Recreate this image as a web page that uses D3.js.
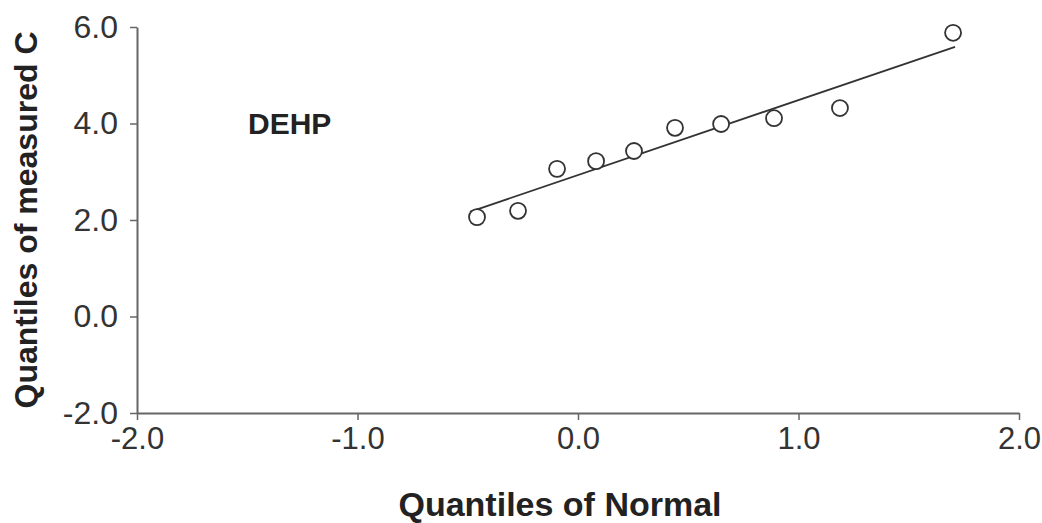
<!DOCTYPE html>
<html>
<head>
<meta charset="utf-8">
<script src="https://cdn.jsdelivr.net/npm/d3@7"></script>
<style>
  body { margin: 0; background: #fff; }
  text { font-family: "Liberation Sans", Arial, Helvetica, sans-serif; }
</style>
</head>
<body>
<svg id="chart" width="1042" height="523"></svg>
<script>
// normal quantiles vs measured quantiles (DEHP)
const normalQ = [-0.458, -0.272, -0.095, 0.082, 0.254, 0.440, 0.649, 0.889, 1.188, 1.701];
const measuredQ = [2.06, 2.19, 3.06, 3.22, 3.43, 3.91, 3.99, 4.11, 4.32, 5.88];
// reference line end points
const lineX = [-0.49, 1.71];
const lineY = [2.17, 5.59];
const xTicks = [-2, -1, 0, 1, 2];
const yTicks = [-2, 0, 2, 4, 6];

const svg = d3.select("#chart");
const margin = { top: 27, right: 23, bottom: 110, left: 137 };
const width = 1042, height = 523;

const x = d3.scaleLinear().domain([-2, 2]).range([margin.left, width - margin.right]);
const y = d3.scaleLinear().domain([-2, 6]).range([height - margin.bottom, margin.top]);

const axisColor = "#666";
const textColor = "#333";
const fmt = d => d3.format(".1f")(d).replace("−", "-");

// x axis
svg.append("g")
    .attr("transform", `translate(0,${y(-2)})`)
    .call(d3.axisBottom(x).tickValues(xTicks).tickSize(7).tickSizeOuter(0))
    .call(g => g.select(".domain").attr("stroke", axisColor).attr("stroke-width", 2))
    .call(g => g.selectAll(".tick line").attr("stroke", axisColor).attr("stroke-width", 1.5))
    .call(g => g.selectAll(".tick text")
        .attr("fill", textColor)
        .attr("font-size", 31)
        .attr("y", 14)
        .text(fmt));

// y axis
svg.append("g")
    .attr("transform", `translate(${x(-2)},0)`)
    .call(d3.axisLeft(y).tickValues(yTicks).tickSize(7).tickSizeOuter(0))
    .call(g => g.select(".domain").attr("stroke", axisColor).attr("stroke-width", 2))
    .call(g => g.selectAll(".tick line").attr("stroke", axisColor).attr("stroke-width", 1.5))
    .call(g => g.selectAll(".tick text")
        .attr("fill", textColor)
        .attr("font-size", 32)
        .attr("x", -19)
        .text(fmt));

// reference line
svg.append("path")
    .datum(d3.zip(lineX, lineY))
    .attr("fill", "none")
    .attr("stroke", "#333")
    .attr("stroke-width", 1.8)
    .attr("d", d3.line().x(d => x(d[0])).y(d => y(d[1])));

// points
svg.append("g")
    .selectAll("circle")
    .data(d3.zip(normalQ, measuredQ))
    .join("circle")
    .attr("cx", d => x(d[0]))
    .attr("cy", d => y(d[1]))
    .attr("r", 8)
    .attr("fill", "#fff")
    .attr("stroke", "#333")
    .attr("stroke-width", 1.8);

// label inside plot
svg.append("text")
    .attr("x", 248)
    .attr("y", 134)
    .attr("font-size", 30)
    .attr("font-weight", "bold")
    .attr("fill", "#222")
    .text("DEHP");

// axis titles
svg.append("text")
    .attr("x", 560)
    .attr("y", 516)
    .attr("text-anchor", "middle")
    .attr("font-size", 34)
    .attr("font-weight", "bold")
    .attr("fill", "#222")
    .text("Quantiles of Normal");

svg.append("text")
    .attr("transform", `translate(37,${(y(-2) + y(6)) / 2}) rotate(-90)`)
    .attr("text-anchor", "middle")
    .attr("font-size", 32)
    .attr("font-weight", "bold")
    .attr("fill", "#222")
    .text("Quantiles of measured C");
</script>
</body>
</html>
